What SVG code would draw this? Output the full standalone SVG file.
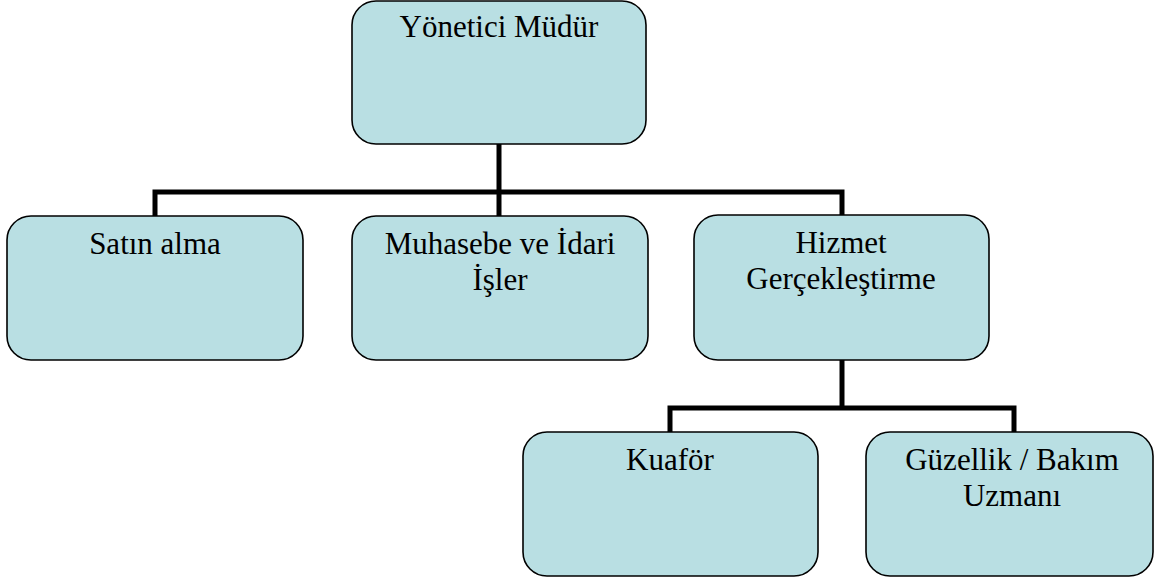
<svg xmlns="http://www.w3.org/2000/svg" width="1155" height="577" viewBox="0 0 1155 577">
  <style>
    .box { fill: #B9DFE3; stroke: #000; stroke-width: 1.6; }
    .lbl { font-family: 'Liberation Serif', 'Times New Roman', Tinos, 'DejaVu Serif', serif; font-size: 31px; fill: #000; text-anchor: middle; }
    .conn { fill: none; stroke: #000; stroke-width: 5; stroke-linecap: butt; stroke-linejoin: miter; }
  </style>
  <rect width="1155" height="577" fill="#fff"/>
  <g id="connectors">
    <path class="conn" d="M499,144 V216"/>
    <path class="conn" d="M155,216 V192 H842 V215"/>
    <path class="conn" d="M842,360 V410"/>
    <path class="conn" d="M670,432 V408 H1014 V432"/>
  </g>
  <g font-family="Liberation Serif, Times New Roman, serif">
  <g id="node-yonetici">
    <rect class="box" x="352" y="1" width="294" height="143" rx="24" ry="24"/>
    <text class="lbl" x="499" y="37">Yönetici Müdür</text>
  </g>
  <g id="node-satinalma">
    <rect class="box" x="7" y="216" width="296" height="144" rx="24" ry="24"/>
    <text class="lbl" x="155" y="254">Satın alma</text>
  </g>
  <g id="node-muhasebe">
    <rect class="box" x="352" y="216" width="296" height="144" rx="24" ry="24"/>
    <text class="lbl" x="500" y="254">Muhasebe ve İdari</text>
    <text class="lbl" x="500" y="290">İşler</text>
  </g>
  <g id="node-hizmet">
    <rect class="box" x="694" y="215" width="295" height="145" rx="24" ry="24"/>
    <text class="lbl" x="841" y="253">Hizmet</text>
    <text class="lbl" x="841" y="289">Gerçekleştirme</text>
  </g>
  <g id="node-kuafor">
    <rect class="box" x="523" y="432" width="295" height="144" rx="24" ry="24"/>
    <text class="lbl" x="670" y="470">Kuaför</text>
  </g>
  <g id="node-guzellik">
    <rect class="box" x="866" y="432" width="287" height="144" rx="24" ry="24"/>
    <text class="lbl" x="1012" y="470">Güzellik / Bakım</text>
    <text class="lbl" x="1012" y="506">Uzmanı</text>
  </g>
  </g>
</svg>
